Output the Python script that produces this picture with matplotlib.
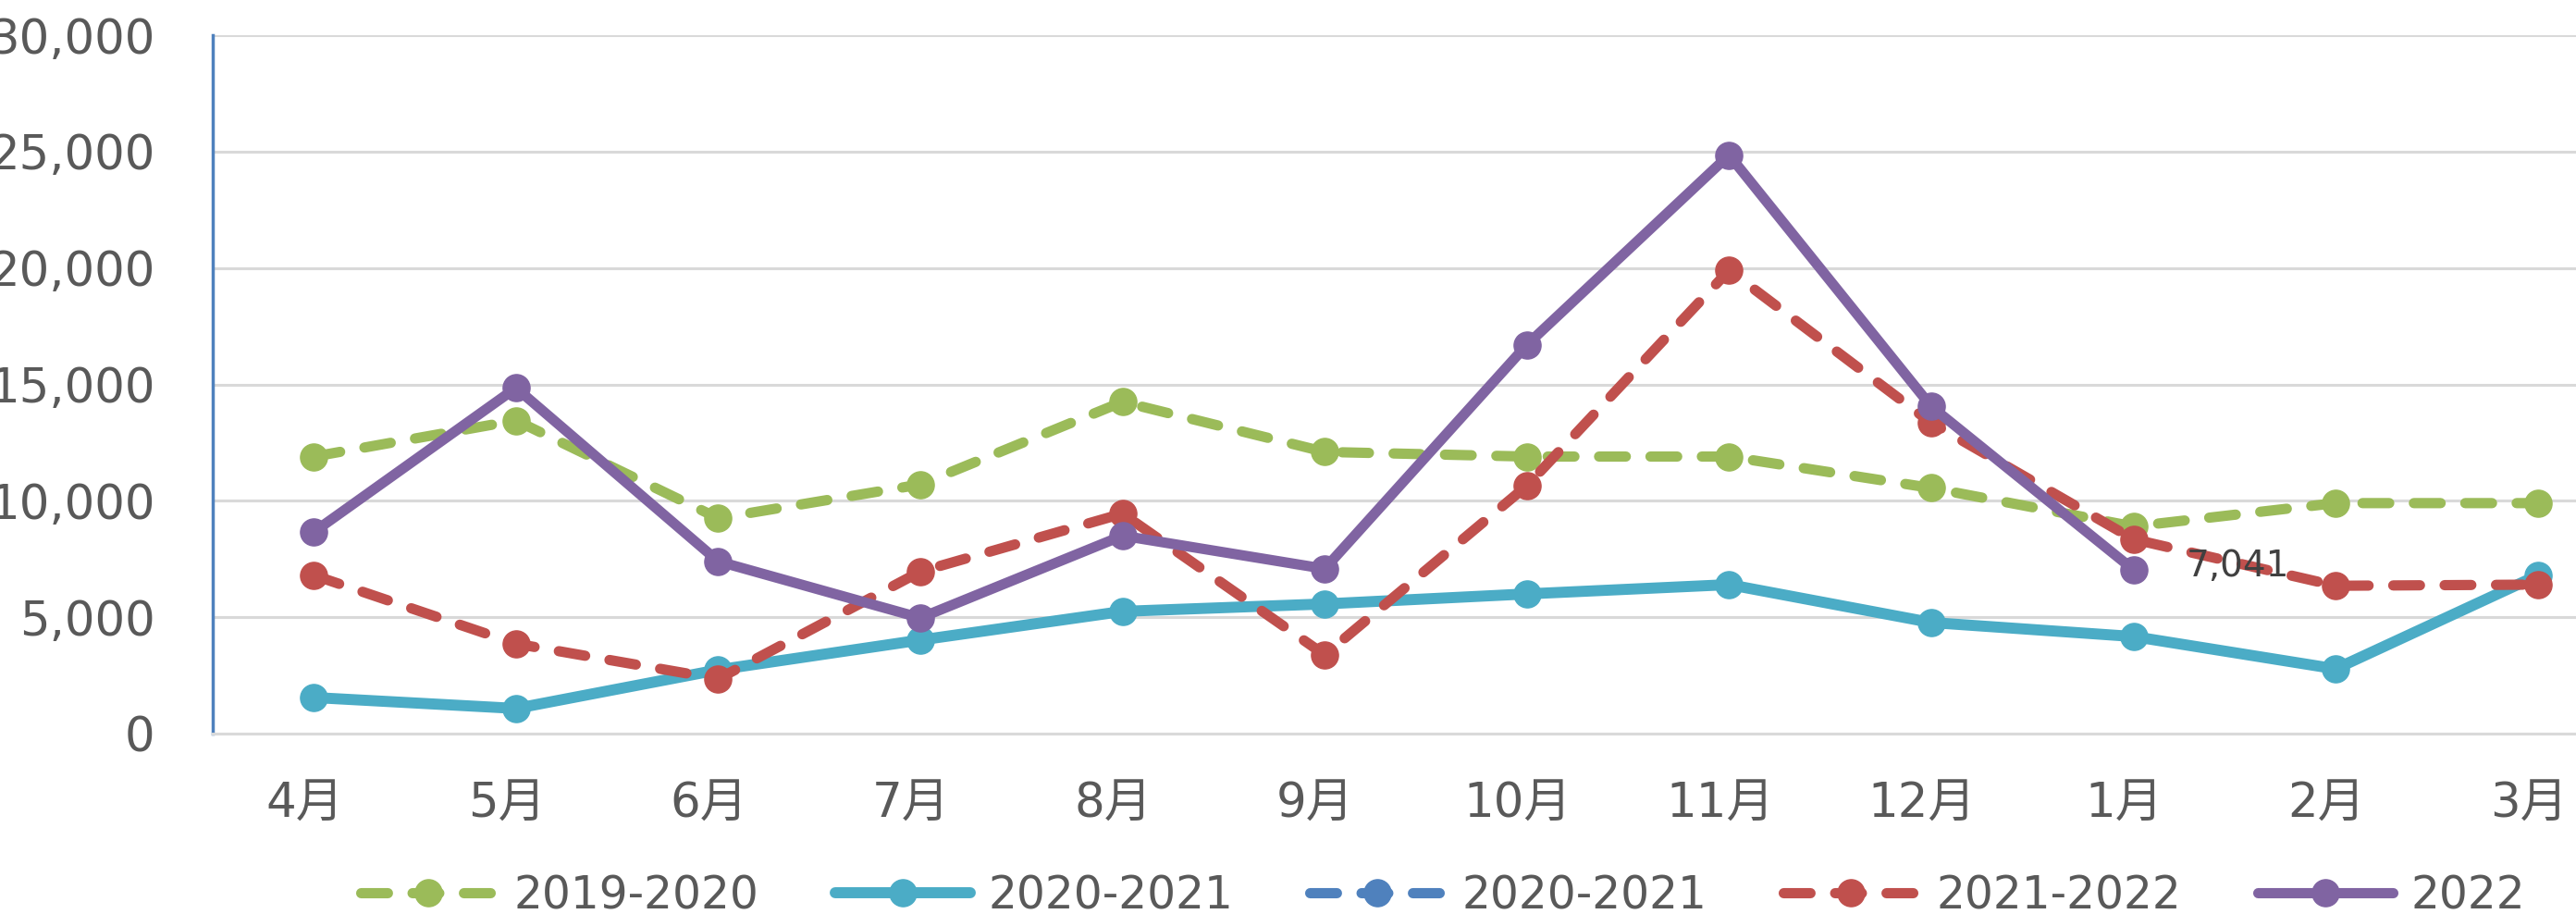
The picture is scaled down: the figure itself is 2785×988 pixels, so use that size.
import matplotlib
matplotlib.use("Agg")
import matplotlib.pyplot as plt
from matplotlib.transforms import ScaledTranslation
import numpy as np

months = ["4月", "5月", "6月", "7月", "8月", "9月", "10月", "11月", "12月", "1月", "2月", "3月"]
s2019_2020 = [11900, 13450, 9250, 10700, 14250, 12100, 11900, 11900, 10550, 8900, 9900, 9900]
s2020_2021 = [1550, 1080, 2740, 4020, 5250, 5570, 6000, 6400, 4770, 4170, 2780, 6800]
s2020_2021b = [None] * 12
s2021_2022 = [6800, 3860, 2350, 6960, 9450, 3380, 10650, 19900, 13350, 8350, 6350, 6400]
s2022 = [8660, 14850, 7400, 4970, 8500, 7080, 16700, 24850, 14050, 7041, None, None]
series_names = ["2019-2020", "2020-2021", "2020-2021", "2021-2022", "2022"]
yticks = [0, 5000, 10000, 15000, 20000, 25000, 30000]

colors = ["#9BBB59", "#4BACC6", "#4F81BD", "#C0504D", "#8064A2"]
fam = ["DejaVu Sans", "Noto Sans CJK SC"]
plt.rcParams['font.family'] = fam

W, H = 2785, 988
fig = plt.figure(figsize=(W / 100, H / 100), dpi=100)
ax = fig.add_axes([230 / W, (H - 793) / H, (2853 - 230) / W, (793 - 38) / H])

x = np.arange(len(months))
def arr(v):
    return np.array([np.nan if a is None else a for a in v], dtype=float)

ms = 21
data = [s2019_2020, s2020_2021, s2020_2021b, s2021_2022, s2022]
styles = ["dash", "solid", "dash", "dash", "solid"]
widths = [8.0, 8.6, 8.0, 8.0, 8.0]
for i, (vals, name, c, st) in enumerate(zip(data, series_names, colors, styles)):
    kw = dict(color=c, lw=widths[i],
              marker="o", ms=ms, mec=c, mfc=c, label=name,
              solid_capstyle="round", dash_capstyle="round", zorder=3 + i)
    if st == "dash":
        kw["dashes"] = (2.6, 2.4)
    ax.plot(x, arr(vals), **kw)

ax.annotate("7,041", xy=(9, s2022[9]), xytext=(41, 3), textcoords="offset points",
            ha="left", va="center", fontsize=28, color="#404040", zorder=10)

ax.set_xlim(-0.5, 11.5)
ax.set_ylim(0, 30000)
ax.set_yticks(yticks)
ax.set_yticklabels([f"{v:,}" for v in yticks])
ax.set_xticks(x)
ax.set_xticklabels(months)
ax.tick_params(axis="both", length=0, labelsize=37, colors="#595959")
ax.tick_params(axis="y", pad=45)
ax.tick_params(axis="x", pad=37)
for lab in ax.get_xticklabels():
    lab.set_transform(lab.get_transform() + ScaledTranslation(-0.10, 0, fig.dpi_scale_trans))
ax.grid(axis="y", color="#D9D9D9", lw=2.2, zorder=0)
ax.set_axisbelow(True)
for s in ["top", "right"]:
    ax.spines[s].set_visible(False)
ax.spines["left"].set_color("#4F81BD")
ax.spines["left"].set_linewidth(2.5)
ax.spines["bottom"].set_color("#D9D9D9")
ax.spines["bottom"].set_linewidth(2.2)

handles, labels = ax.get_legend_handles_labels()
leg = fig.legend(handles, labels, loc="center", bbox_to_anchor=(1560 / W, 20 / H),
                 ncol=5, frameon=False, fontsize=35, handlelength=3.0,
                 handletextpad=0.4, columnspacing=1.7, labelcolor="#595959",
                 borderaxespad=0, borderpad=0)

fig.savefig("out.png", dpi=100)
